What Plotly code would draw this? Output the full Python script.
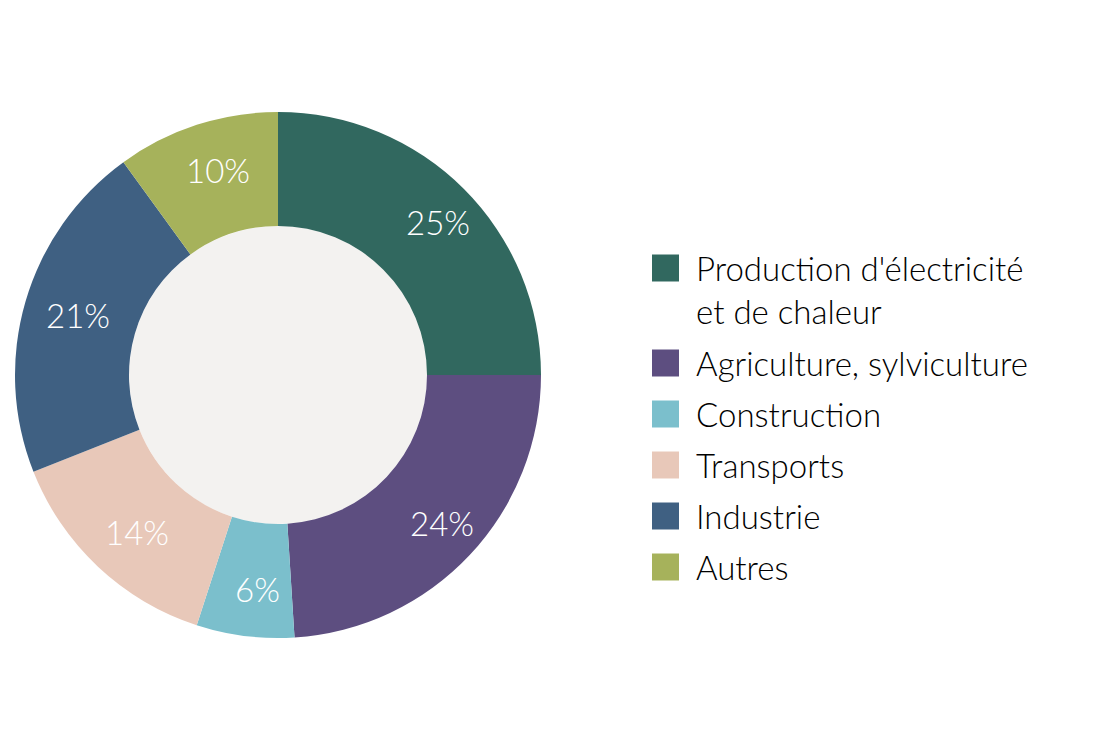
import math
import plotly.graph_objects as go

categories = ["Production d'électricité<br>et de chaleur", "Agriculture, sylviculture",
              "Construction", "Transports", "Industrie", "Autres"]
values = [25, 24, 6, 14, 21, 10]
colors = ["#31685f", "#5d4e80", "#7bbfcc", "#e8c8b9", "#3f6082", "#a6b25b"]

W, H = 1100, 750
OFF = 8  # page body margin
cx, cy, R, r_in = 278 - OFF, 375 - OFF, 263, 149
FONT = "Source Sans Pro, Lato, Open Sans, sans-serif"

fig = go.Figure(go.Pie(
    labels=categories, values=values, sort=False, direction="clockwise",
    rotation=0, hole=r_in / R,
    marker=dict(colors=colors, line=dict(width=0)),
    textinfo="none",
    domain=dict(x=[(cx - R) / W, (cx + R) / W], y=[(H - cy - R) / H, (H - cy + R) / H]),
    showlegend=False, hoverinfo="label+percent",
))

shapes = [dict(type="circle", xref="paper", yref="paper", layer="below",
               x0=(cx - r_in) / W, x1=(cx + r_in) / W,
               y0=(H - cy - r_in) / H, y1=(H - cy + r_in) / H,
               fillcolor="#f3f2f0", line=dict(width=0))]
annotations = []

# percentage labels at the middle angle of each slice
total = sum(values)
cum = 0
r_lab = 216
for v in values:
    mid = (cum + v / 2) / total * 2 * math.pi
    cum += v
    px = cx + r_lab * math.sin(mid)
    py = cy - r_lab * math.cos(mid)
    annotations.append(dict(xref="paper", yref="paper", x=px / W, y=(H - py) / H,
                            xanchor="center", yanchor="middle", showarrow=False,
                            xshift=7,
                            text=f"{v / total * 100:.0f}%",
                            font=dict(size=33, color="white", family=FONT, weight=300)))

sq = 27
for i, (lab, col) in enumerate(zip(categories, colors)):
    yc = 268 - OFF + 51 * i + (44 if i >= 1 else 0)
    shapes.append(dict(type="rect", xref="paper", yref="paper",
                       x0=(652 - OFF) / W, x1=(652 - OFF + sq) / W,
                       y0=(H - yc - sq / 2) / H, y1=(H - yc + sq / 2) / H,
                       fillcolor=col, line=dict(width=0)))
    annotations.append(dict(xref="paper", yref="paper", x=(694 - OFF) / W, y=(H - yc) / H,
                            xanchor="left", yanchor="top" if "<br>" in lab else "middle",
                            yshift=22 if "<br>" in lab else 0,
                            text=lab, showarrow=False, align="left",
                            font=dict(size=33, color="#000000", family=FONT, weight=300)))

fig.update_layout(width=W, height=H, margin=dict(l=0, r=0, t=0, b=0),
                  paper_bgcolor="white", plot_bgcolor="white",
                  shapes=shapes, annotations=annotations)
fig.write_html("out.html")
